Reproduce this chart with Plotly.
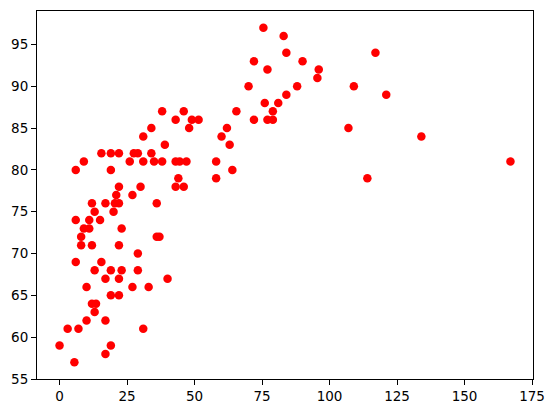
import plotly.graph_objects as go

x_vals = [0, 5.5, 3, 7, 10, 17, 13, 12, 13.5, 19, 22, 10, 27, 33, 17, 22, 40, 13, 19, 23, 29,
          6, 15.5, 29, 8, 12, 22, 8, 36, 37, 31, 19, 17,
          9, 11, 23, 6, 11, 15, 13, 20, 12, 17, 20.5, 22, 36, 21, 27, 22, 30, 6, 19,
          9, 26, 31, 35, 38, 43, 44.5, 47, 58, 15.5, 19, 22, 27.5, 29, 34, 31, 34, 38, 39,
          64, 44, 58, 43, 46,
          43, 46, 49, 51.5, 48, 60, 62, 63, 65.5, 70, 72, 72, 75.5, 76, 77, 77, 79, 79, 81,
          83, 84, 84, 88, 90, 95.5, 96, 107, 109, 114, 117, 121, 134, 167]
y_vals = [59, 57, 61, 61, 62, 62, 63, 64, 64, 65, 65, 66, 66, 66, 67, 67, 67, 68, 68, 68, 68,
          69, 69, 70, 71, 71, 71, 72, 72, 72, 61, 59, 58,
          73, 73, 73, 74, 74, 74, 75, 75, 76, 76, 76, 76, 76, 77, 77, 78, 78, 80, 80,
          81, 81, 81, 81, 81, 81, 81, 81, 81, 82, 82, 82, 82, 82, 82, 84, 85, 87, 83,
          80, 79, 79, 78, 78,
          86, 87, 86, 86, 85, 84, 85, 83, 87, 90, 86, 93, 97, 88, 86, 92, 86, 87, 88,
          96, 94, 89, 90, 93, 91, 92, 85, 90, 79, 94, 89, 84, 81]

x_ticks = [0, 25, 50, 75, 100, 125, 150, 175]
y_ticks = [55, 60, 65, 70, 75, 80, 85, 90, 95]

fig = go.Figure(go.Scatter(
    x=x_vals, y=y_vals, mode="markers",
    marker=dict(color="#ff0000", size=8.5, line=dict(width=0)),
    cliponaxis=False,
))

axis_common = dict(
    showgrid=False, zeroline=False, showline=True, linecolor="black", linewidth=1,
    mirror=True, ticks="outside", ticklen=5, tickwidth=1, tickcolor="black",
    tickfont=dict(family="DejaVu Sans", size=13.5, color="black"),
    automargin=False,
)

# page body has an 8px margin, so the figure is offset by 8px
fig.update_layout(
    width=545, height=405,
    margin=dict(l=29, r=20, t=3, b=34),
    paper_bgcolor="white", plot_bgcolor="white",
    showlegend=False,
    xaxis=dict(range=[-8.35, 175.35], tickvals=x_ticks, **axis_common),
    yaxis=dict(range=[55, 99], tickvals=y_ticks, **axis_common),
)

fig.write_html("out.html")
